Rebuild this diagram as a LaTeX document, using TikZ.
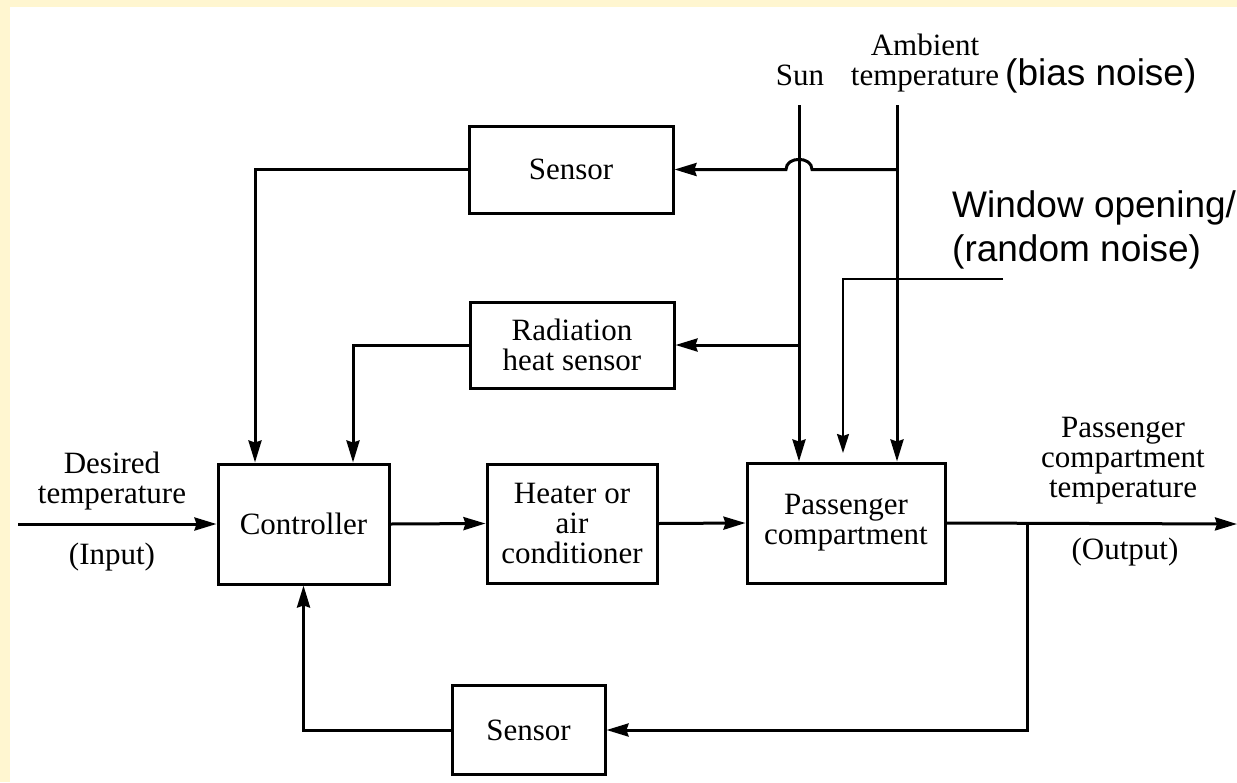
\documentclass[tikz,border=0pt]{standalone}
\usepackage{fontspec}
\setmainfont{Liberation Serif}
\newfontfamily\sansnote{Liberation Sans}
\usepackage{tikz}
\usetikzlibrary{arrows.meta}
\definecolor{paper}{HTML}{FFF6D0}

\begin{document}
\begin{tikzpicture}[x=1pt,y=-1pt,
  blk/.style={draw,line width=3pt,inner sep=0pt,align=center,font=\fontsize{31}{30}\selectfont},
  lbl/.style={inner sep=0pt,align=center,font=\fontsize{31}{30}\selectfont},
  note/.style={inner sep=0pt,anchor=base west,font=\sansnote\fontsize{37}{37}\selectfont},
  arr/.style={line width=3pt,-{Stealth[length=22pt,width=13pt,inset=2pt]}}]
\useasboundingbox (0,0) rectangle (1237,782);
\fill[paper] (0,0) rectangle (1237,7);
\fill[paper] (0,0) rectangle (10,782);
% blocks
\node[blk,minimum width=171pt,minimum height=120pt] (ctrl) at (303.5,524) {Controller};
\node[blk,minimum width=170pt,minimum height=119pt] (heat) at (572,523.5) {Heater or\\air\\conditioner};
\node[blk,minimum width=198pt,minimum height=120pt] (pass) at (846,523) {Passenger\\compartment};
\node[blk,minimum width=204pt,minimum height=87pt] (sensA) at (571,169.5) {Sensor};
\node[blk,minimum width=204pt,minimum height=86pt] (rad) at (572,345) {Radiation\\heat sensor};
\node[blk,minimum width=153pt,minimum height=89pt] (sensB) at (528.5,730) {Sensor};
% disturbances
\coordinate (sun) at (799,105);
\coordinate (amb) at (897,105);
\coordinate (wtop) at (1003,279);
\coordinate (wend) at (843,453);
\node[lbl,anchor=base] (sunlbl) at (800,85) {Sun};
\node[lbl,anchor=base] (ambtemp) at (925,85) {temperature};
\node[lbl,anchor=base] (amblbl) at (925,55) {Ambient};
\node[note] (bias) at (1005,85) {(bias noise)};
\node[note] (win) at (952,217) {Window opening/};
\node[note] (rnd) at (952,261) {(random noise)};
% input / output
\coordinate (in) at (18,524);
\coordinate (br) at (1027,524);
\coordinate (out) at (1237,524);
\node[lbl] (inlbl) at (112,481) {Desired\\temperature};
\node[lbl] (inp) at (112,557) {(Input)};
\node[lbl] (outlbl) at (1123,461) {Passenger\\compartment\\temperature};
\node[lbl] (outp) at (1125,552) {(Output)};
% forward path
\draw[arr] (in) -- (ctrl.west);
\draw[arr] (ctrl.east) -- (heat.west);
\draw[arr] (heat.east) -- (pass.west);
\draw[arr] (pass.east) -- (out);
% feedback
\draw[arr] (br) |- (sensB.east);
\draw[arr] (sensB.west) -| (ctrl.south);
\draw[arr] (sensA.west) -| ([xshift=-48.5pt]ctrl.north);
\draw[arr] (rad.west) -| ([xshift=49.5pt]ctrl.north);
% sun and ambient
\draw[arr] (sun) -- (sun |- pass.north);
\draw[arr] (amb) -- (amb |- pass.north);
\draw[arr] (amb |- sensA.east) -- (812,169.5) .. controls (812,156) and (786,156) .. (786,169.5) -- (sensA.east);
\draw[arr] (sun |- rad.east) -- (rad.east);
\draw[line width=2pt,-{Stealth[length=19pt,width=12pt,inset=2pt]}] (wtop) -| (wend);
\end{tikzpicture}
\end{document}
